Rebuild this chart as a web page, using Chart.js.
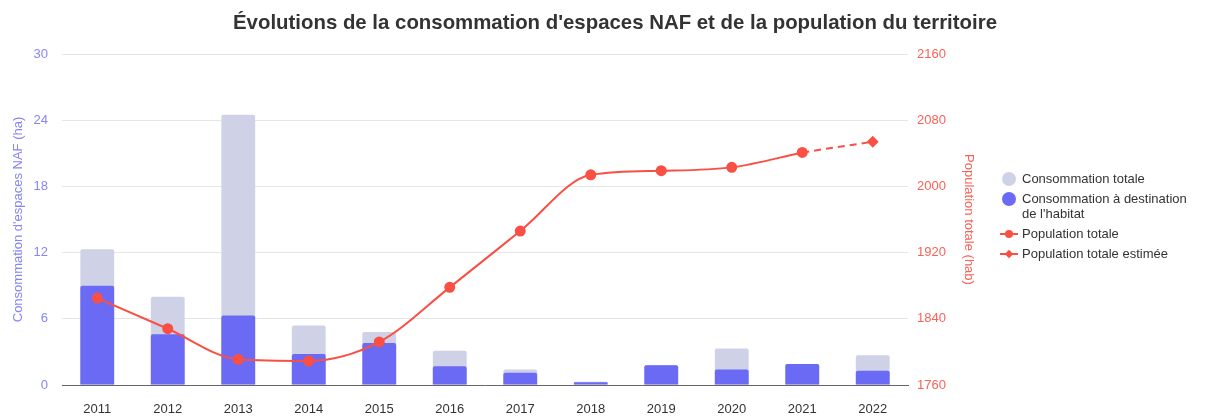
<!DOCTYPE html>
<html>
<head>
<meta charset="utf-8">
<script src="https://cdn.jsdelivr.net/npm/chart.js@4"></script>
<style>
  html, body { margin: 0; padding: 0; background: #fff; }
  #wrap { position: relative; width: 1208px; height: 416px; }
  #title { position: absolute; left: 0; top: 10px; width: 1230px; text-align: center; font: bold 20.4px/24px "Liberation Sans", Arial, sans-serif; color: #333; white-space: nowrap; }
  #legend { position: absolute; left: 1000px; top: 171px; font: 13px "Liberation Sans", Arial, sans-serif; color: #333; }
  .item { position: relative; padding-left: 22px; margin-bottom: 5px; line-height: 15px; }
  .sym { position: absolute; left: 2px; top: 0; }
  .dot { width: 14px; height: 14px; border-radius: 50%; left: 2px; top: 1px; }
  .ln { width: 18px; left: 0; top: 7px; height: 0; border-top: 2px solid #fa4f45; }
  .ln.dash { border-top-style: dashed; }
  .pt { position: absolute; left: 5px; top: -5px; width: 8px; height: 8px; background: #fa4f45; border-radius: 50%; }
  .dm { position: absolute; left: 6px; top: -4px; width: 6px; height: 6px; background: #fa4f45; transform: rotate(45deg); }
</style>
</head>
<body>
<div id="wrap">
  <canvas id="chart_conso" width="1208" height="416"></canvas>
  <div id="title">Évolutions de la consommation d'espaces NAF et de la population du territoire</div>
  <div id="legend">
    <div class="item"><span class="sym dot" style="background:#cfd2e6"></span>Consommation totale</div>
    <div class="item"><span class="sym dot" style="background:#6a6af4"></span>Consommation à destination<br>de l'habitat</div>
    <div class="item"><span class="sym ln"><span class="pt"></span></span>Population totale</div>
    <div class="item"><span class="sym ln dash"><span class="dm"></span></span>Population totale estimée</div>
  </div>
</div>
<script>
var years = ['2011', '2012', '2013', '2014', '2015', '2016', '2017', '2018', '2019', '2020', '2021', '2022'];
var consoTotale = [12.3, 8.0, 24.5, 5.4, 4.8, 3.1, 1.4, 0.3, 1.8, 3.3, 1.9, 2.7];
var consoHabitat = [9.0, 4.6, 6.3, 2.8, 3.8, 1.7, 1.1, 0.25, 1.8, 1.4, 1.9, 1.3];
var population = [1865, 1828, 1791, 1789, 1812, 1878, 1946, 2014, 2019, 2023, 2041, null];
var populationEstimee = [null, null, null, null, null, null, null, null, null, null, 2041, 2054];
var leftTicks = [0, 6, 12, 18, 24, 30];
var rightTicks = [1760, 1840, 1920, 2000, 2080, 2160];

Chart.defaults.font.family = '"Liberation Sans", Arial, sans-serif';
Chart.defaults.color = '#333';

var chart_conso = new Chart(document.getElementById('chart_conso'), {
    type: 'bar',
    data: {
        labels: years,
        datasets: [
            {
                type: 'line',
                label: 'Population totale',
                yAxisID: 'y1',
                data: population,
                borderColor: '#fa4f45',
                backgroundColor: '#fa4f45',
                borderWidth: 2,
                pointRadius: 4.5,
                pointHoverRadius: 4.5,
                cubicInterpolationMode: 'monotone',
                order: 0
            },
            {
                type: 'line',
                label: 'Population totale estimée',
                yAxisID: 'y1',
                data: populationEstimee,
                borderColor: '#fa4f45',
                backgroundColor: '#fa4f45',
                borderWidth: 2,
                borderDash: [7, 5],
                pointStyle: 'rectRot',
                pointRadius: [0, 0, 0, 0, 0, 0, 0, 0, 0, 0, 0, 4.5],
                order: 0
            },
            {
                label: 'Consommation à destination de l\'habitat',
                yAxisID: 'y',
                data: consoHabitat,
                backgroundColor: '#6a6af4',
                grouped: false,
                barPercentage: 0.48,
                categoryPercentage: 1,
                borderRadius: { topLeft: 2, topRight: 2 },
                borderSkipped: 'bottom',
                order: 1
            },
            {
                label: 'Consommation totale',
                yAxisID: 'y',
                data: consoTotale,
                backgroundColor: '#cfd2e6',
                grouped: false,
                barPercentage: 0.48,
                categoryPercentage: 1,
                borderRadius: { topLeft: 2, topRight: 2 },
                borderSkipped: 'bottom',
                order: 2
            }
        ]
    },
    options: {
        animation: false,
        responsive: false,
        layout: { padding: { left: 0, right: 208, top: 54, bottom: 0 } },
        plugins: {
            legend: { display: false },
            tooltip: { enabled: false },
            title: { display: false }
        },
        scales: {
            x: {
                grid: { display: false },
                border: { display: true, color: '#666', width: 1 },
                ticks: { color: '#333', font: { size: 13 }, padding: 9, maxRotation: 0 },
                afterFit: function(scale) { scale.height = 31; }
            },
            y: {
                position: 'left',
                min: 0,
                max: 30,
                afterBuildTicks: function(scale) { scale.ticks = leftTicks.map(function(v) { return { value: v }; }); },
                grid: { color: '#e6e6e6', drawTicks: false },
                border: { display: false },
                ticks: { color: '#8585f4', font: { size: 13 }, padding: 14, callback: function(v) { return String(v); } },
                title: { display: true, text: 'Consommation d\'espaces NAF (ha)', color: '#8585f4', font: { size: 13 }, padding: { top: 11, bottom: 0 } },
                afterFit: function(scale) { scale.width = 62; }
            },
            y1: {
                position: 'right',
                min: 1760,
                max: 2160,
                afterBuildTicks: function(scale) { scale.ticks = rightTicks.map(function(v) { return { value: v }; }); },
                grid: { display: false, drawTicks: false },
                border: { display: false },
                ticks: { color: '#fa6258', font: { size: 13 }, padding: 9, callback: function(v) { return String(v); } },
                title: { display: true, text: 'Population totale (hab)', color: '#fa6258', font: { size: 13 }, padding: { top: 24, bottom: 0 } },
                afterFit: function(scale) { scale.width = 92; }
            }
        }
    }
});
</script>
</body>
</html>
